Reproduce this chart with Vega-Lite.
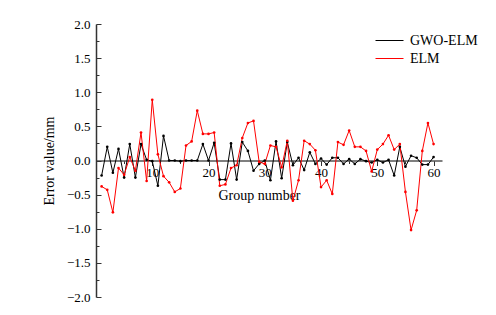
{
  "$schema": "https://vega.github.io/schema/vega-lite/v6.json",
  "autosize": "none",
  "width": 346,
  "height": 273,
  "padding": {"left": 96, "top": 24, "right": 54, "bottom": 18},
  "background": "white",
  "config": {"view": {"stroke": null}, "font": "Liberation Serif"},
  "datasets": {
    "errors": [
      {"group": 1, "series": "GWO-ELM", "error": -0.22},
      {"group": 2, "series": "GWO-ELM", "error": 0.20},
      {"group": 3, "series": "GWO-ELM", "error": -0.18},
      {"group": 4, "series": "GWO-ELM", "error": 0.17},
      {"group": 5, "series": "GWO-ELM", "error": -0.25},
      {"group": 6, "series": "GWO-ELM", "error": 0.24},
      {"group": 7, "series": "GWO-ELM", "error": -0.25},
      {"group": 8, "series": "GWO-ELM", "error": 0.24},
      {"group": 9, "series": "GWO-ELM", "error": 0.01},
      {"group": 10, "series": "GWO-ELM", "error": -0.01},
      {"group": 11, "series": "GWO-ELM", "error": -0.37},
      {"group": 12, "series": "GWO-ELM", "error": 0.36},
      {"group": 13, "series": "GWO-ELM", "error": 0.0},
      {"group": 14, "series": "GWO-ELM", "error": 0.0},
      {"group": 15, "series": "GWO-ELM", "error": -0.01},
      {"group": 16, "series": "GWO-ELM", "error": 0.0},
      {"group": 17, "series": "GWO-ELM", "error": 0.0},
      {"group": 18, "series": "GWO-ELM", "error": 0.0},
      {"group": 19, "series": "GWO-ELM", "error": 0.24},
      {"group": 20, "series": "GWO-ELM", "error": 0.0},
      {"group": 21, "series": "GWO-ELM", "error": 0.26},
      {"group": 22, "series": "GWO-ELM", "error": -0.28},
      {"group": 23, "series": "GWO-ELM", "error": -0.28},
      {"group": 24, "series": "GWO-ELM", "error": 0.25},
      {"group": 25, "series": "GWO-ELM", "error": -0.28},
      {"group": 26, "series": "GWO-ELM", "error": 0.27},
      {"group": 27, "series": "GWO-ELM", "error": 0.14},
      {"group": 28, "series": "GWO-ELM", "error": -0.15},
      {"group": 29, "series": "GWO-ELM", "error": -0.05},
      {"group": 30, "series": "GWO-ELM", "error": 0.0},
      {"group": 31, "series": "GWO-ELM", "error": -0.29},
      {"group": 32, "series": "GWO-ELM", "error": 0.28},
      {"group": 33, "series": "GWO-ELM", "error": -0.26},
      {"group": 34, "series": "GWO-ELM", "error": 0.27},
      {"group": 35, "series": "GWO-ELM", "error": -0.07},
      {"group": 36, "series": "GWO-ELM", "error": 0.04},
      {"group": 37, "series": "GWO-ELM", "error": -0.14},
      {"group": 38, "series": "GWO-ELM", "error": 0.12},
      {"group": 39, "series": "GWO-ELM", "error": -0.05},
      {"group": 40, "series": "GWO-ELM", "error": 0.03},
      {"group": 41, "series": "GWO-ELM", "error": -0.06},
      {"group": 42, "series": "GWO-ELM", "error": 0.04},
      {"group": 43, "series": "GWO-ELM", "error": 0.04},
      {"group": 44, "series": "GWO-ELM", "error": -0.05},
      {"group": 45, "series": "GWO-ELM", "error": 0.02},
      {"group": 46, "series": "GWO-ELM", "error": -0.05},
      {"group": 47, "series": "GWO-ELM", "error": 0.02},
      {"group": 48, "series": "GWO-ELM", "error": -0.01},
      {"group": 49, "series": "GWO-ELM", "error": -0.03},
      {"group": 50, "series": "GWO-ELM", "error": 0.01},
      {"group": 51, "series": "GWO-ELM", "error": -0.03},
      {"group": 52, "series": "GWO-ELM", "error": 0.01},
      {"group": 53, "series": "GWO-ELM", "error": -0.22},
      {"group": 54, "series": "GWO-ELM", "error": 0.20},
      {"group": 55, "series": "GWO-ELM", "error": -0.09},
      {"group": 56, "series": "GWO-ELM", "error": 0.07},
      {"group": 57, "series": "GWO-ELM", "error": 0.04},
      {"group": 58, "series": "GWO-ELM", "error": -0.06},
      {"group": 59, "series": "GWO-ELM", "error": -0.06},
      {"group": 60, "series": "GWO-ELM", "error": 0.05},
      {"group": 1, "series": "ELM", "error": -0.38},
      {"group": 2, "series": "ELM", "error": -0.43},
      {"group": 3, "series": "ELM", "error": -0.76},
      {"group": 4, "series": "ELM", "error": -0.11},
      {"group": 5, "series": "ELM", "error": -0.21},
      {"group": 6, "series": "ELM", "error": 0.05},
      {"group": 7, "series": "ELM", "error": -0.15},
      {"group": 8, "series": "ELM", "error": 0.41},
      {"group": 9, "series": "ELM", "error": -0.30},
      {"group": 10, "series": "ELM", "error": 0.89},
      {"group": 11, "series": "ELM", "error": 0.09},
      {"group": 12, "series": "ELM", "error": -0.23},
      {"group": 13, "series": "ELM", "error": -0.32},
      {"group": 14, "series": "ELM", "error": -0.46},
      {"group": 15, "series": "ELM", "error": -0.41},
      {"group": 16, "series": "ELM", "error": 0.22},
      {"group": 17, "series": "ELM", "error": 0.28},
      {"group": 18, "series": "ELM", "error": 0.73},
      {"group": 19, "series": "ELM", "error": 0.39},
      {"group": 20, "series": "ELM", "error": 0.39},
      {"group": 21, "series": "ELM", "error": 0.41},
      {"group": 22, "series": "ELM", "error": -0.37},
      {"group": 23, "series": "ELM", "error": -0.35},
      {"group": 24, "series": "ELM", "error": -0.11},
      {"group": 25, "series": "ELM", "error": -0.07},
      {"group": 26, "series": "ELM", "error": 0.33},
      {"group": 27, "series": "ELM", "error": 0.55},
      {"group": 28, "series": "ELM", "error": 0.58},
      {"group": 29, "series": "ELM", "error": -0.02},
      {"group": 30, "series": "ELM", "error": -0.05},
      {"group": 31, "series": "ELM", "error": 0.22},
      {"group": 32, "series": "ELM", "error": 0.20},
      {"group": 33, "series": "ELM", "error": -0.10},
      {"group": 34, "series": "ELM", "error": 0.29},
      {"group": 35, "series": "ELM", "error": -0.59},
      {"group": 36, "series": "ELM", "error": -0.29},
      {"group": 37, "series": "ELM", "error": 0.29},
      {"group": 38, "series": "ELM", "error": 0.24},
      {"group": 39, "series": "ELM", "error": 0.15},
      {"group": 40, "series": "ELM", "error": -0.39},
      {"group": 41, "series": "ELM", "error": -0.29},
      {"group": 42, "series": "ELM", "error": -0.49},
      {"group": 43, "series": "ELM", "error": 0.27},
      {"group": 44, "series": "ELM", "error": 0.23},
      {"group": 45, "series": "ELM", "error": 0.44},
      {"group": 46, "series": "ELM", "error": 0.20},
      {"group": 47, "series": "ELM", "error": 0.20},
      {"group": 48, "series": "ELM", "error": 0.14},
      {"group": 49, "series": "ELM", "error": -0.16},
      {"group": 50, "series": "ELM", "error": 0.16},
      {"group": 51, "series": "ELM", "error": 0.24},
      {"group": 52, "series": "ELM", "error": 0.37},
      {"group": 53, "series": "ELM", "error": 0.16},
      {"group": 54, "series": "ELM", "error": 0.24},
      {"group": 55, "series": "ELM", "error": -0.46},
      {"group": 56, "series": "ELM", "error": -1.02},
      {"group": 57, "series": "ELM", "error": -0.73},
      {"group": 58, "series": "ELM", "error": 0.14},
      {"group": 59, "series": "ELM", "error": 0.55},
      {"group": 60, "series": "ELM", "error": 0.24}
    ]
  },
  "data": {"name": "errors"},
  "mark": {"type": "line", "strokeWidth": 1, "point": {"filled": true, "size": 7}},
  "encoding": {
    "x": {
      "field": "group",
      "type": "quantitative",
      "scale": {"domain": [0, 61.5], "nice": false, "zero": false},
      "axis": {
        "title": "Group number",
        "values": [5, 10, 15, 20, 25, 30, 35, 40, 45, 50, 55, 60],
        "labelExpr": "datum.value % 10 === 0 ? datum.label : ''",
        "offset": -136.5,
        "domainColor": "#555555",
        "domainWidth": 1.5,
        "tickColor": "#333333",
        "tickSize": {"condition": {"test": "datum.value % 10 === 0", "value": 5}, "value": 3},
        "labelFont": "Liberation Serif",
        "labelFontSize": 13,
        "labelColor": "#000000",
        "labelPadding": 1,
        "titleFont": "Liberation Serif",
        "titleFontSize": 14,
        "titleFontWeight": "normal",
        "titleColor": "#000000",
        "titlePadding": 9,
        "titleX": 163,
        "grid": false
      }
    },
    "y": {
      "field": "error",
      "type": "quantitative",
      "scale": {"domain": [-2, 2], "nice": false},
      "axis": {
        "title": "Error value/mm",
        "values": [-2, -1.75, -1.5, -1.25, -1, -0.75, -0.5, -0.25, 0, 0.25, 0.5, 0.75, 1, 1.25, 1.5, 1.75, 2],
        "labelExpr": "(datum.value * 2) % 1 === 0 ? format(datum.value, '.1f') : ''",
        "domainColor": "#333333",
        "domainWidth": 1.5,
        "tickColor": "#333333",
        "tickSize": {"condition": {"test": "(datum.value * 2) % 1 === 0", "value": -5}, "value": -3},
        "labelFont": "Liberation Serif",
        "labelFontSize": 13,
        "labelColor": "#000000",
        "labelPadding": 11,
        "titleFont": "Liberation Serif",
        "titleFontSize": 14,
        "titleFontWeight": "normal",
        "titleColor": "#000000",
        "titlePadding": 10,
        "grid": false
      }
    },
    "color": {
      "field": "series",
      "type": "nominal",
      "sort": ["GWO-ELM", "ELM"],
      "scale": {"domain": ["GWO-ELM", "ELM"], "range": ["#000000", "#ff0000"]},
      "legend": {
        "title": null,
        "orient": "none",
        "legendX": 279,
        "legendY": 9,
        "symbolType": "stroke",
        "symbolSize": 784,
        "symbolStrokeWidth": 1,
        "labelFont": "Liberation Serif",
        "labelFontSize": 14,
        "labelColor": "#000000",
        "labelOffset": 6,
        "clipHeight": 15,
        "rowPadding": 3
      }
    }
  }
}
